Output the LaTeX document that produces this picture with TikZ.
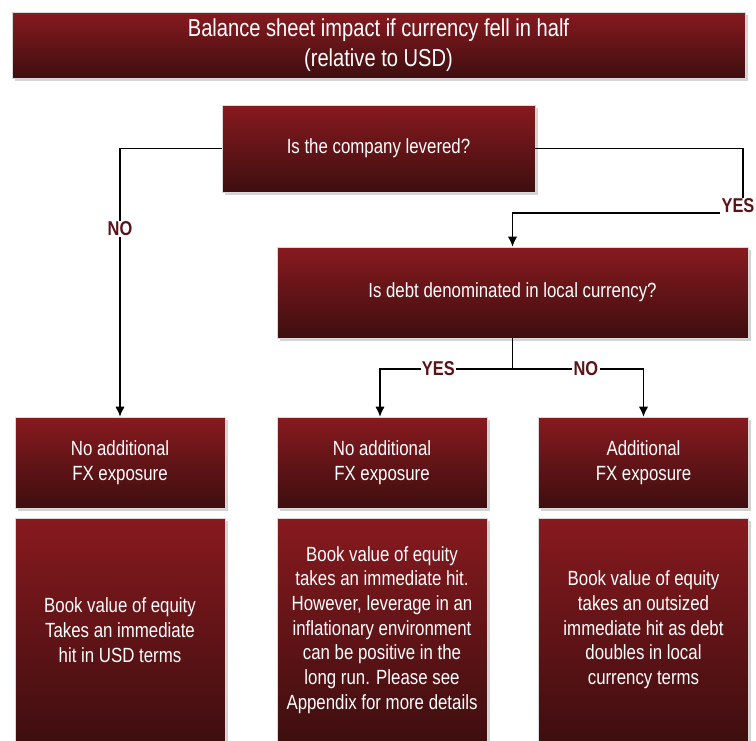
\documentclass[tikz,border=0pt]{standalone}
\usepackage{fontspec}
\setmainfont{Liberation Sans}[FakeStretch=0.82]
\usetikzlibrary{arrows.meta,shadows}
\definecolor{fxTop}{RGB}{135,26,31}
\definecolor{fxBot}{RGB}{62,14,15}
\definecolor{fxLbl}{RGB}{90,20,24}

\begin{document}
\begin{tikzpicture}[
  x=0.75pt, y=-0.75pt,
  font=\fontsize{15.4}{18.5}\selectfont,
  box/.style={draw=black!15, line width=0.5pt, top color=fxTop, bottom color=fxBot, text=white, align=center, inner sep=2pt,
    minimum width=157.5pt, minimum height=68.25pt,
    drop shadow={shadow xshift=2pt, shadow yshift=-2pt, opacity=0.35}},
  detail/.style={box, minimum height=168pt},
  arr/.style={-{Latex[length=7.5pt, width=7pt]}, draw=black, line width=0.9pt},
  lbl/.style={font=\fontsize{15}{18}\selectfont\bfseries, text=fxLbl, fill=white, inner sep=1pt}
]
\useasboundingbox (0,0) rectangle (756,740);

% Title and questions
\node[box, minimum width=549.75pt, minimum height=49.5pt, font=\fontsize{18.4}{22.5}\selectfont] (title) at (378.5,45) {Balance sheet impact if currency fell in half\\(relative to USD)};
\node[box, minimum width=234.75pt, minimum height=65.25pt] (levered) at (378.5,148.5) {Is the company levered?};
\node[box, minimum width=353.25pt] (local) at (512.5,292.5) {Is debt denominated in local currency?};

% Exposure
\node[box] (fxA) at (120,462.5) {No additional\\FX exposure};
\node[box] (fxB) at (382,462.5) {No additional\\FX exposure};
\node[box] (fxC) at (643.5,462.5) {Additional\\FX exposure};

% Details
\node[detail] (bookA) at (120,630) {Book value of equity\\Takes an immediate\\hit in USD terms};
\node[detail] (bookB) at (382,630) {Book value of equity\\takes an immediate hit.\\However, leverage in an\\inflationary environment\\can be positive in the\\long run. Please see\\Appendix for more details};
\node[detail] (bookC) at (643.5,630) {Book value of equity\\takes an outsized\\immediate hit as debt\\doubles in local\\currency terms};

% Arrows
\coordinate (yesCorner) at (743,213);
\coordinate (split) at (512.5,369);
\draw[arr] (levered.west) -| node[lbl, pos=0.65] (noA) {NO} (fxA.north);
\draw[arr] (levered.east) -| (yesCorner) -| (local.north);
\node[lbl] (yesA) at (738,206) {YES};
\draw[line width=0.9pt] (local.south) -- (split);
\draw[arr] (split) -| node[lbl, pos=0.28] (yesB) {YES} ([xshift=-1.5pt]fxB.north);
\draw[arr] (split) -| node[lbl, pos=0.28] (noB) {NO} (fxC.north);

\end{tikzpicture}
\end{document}
